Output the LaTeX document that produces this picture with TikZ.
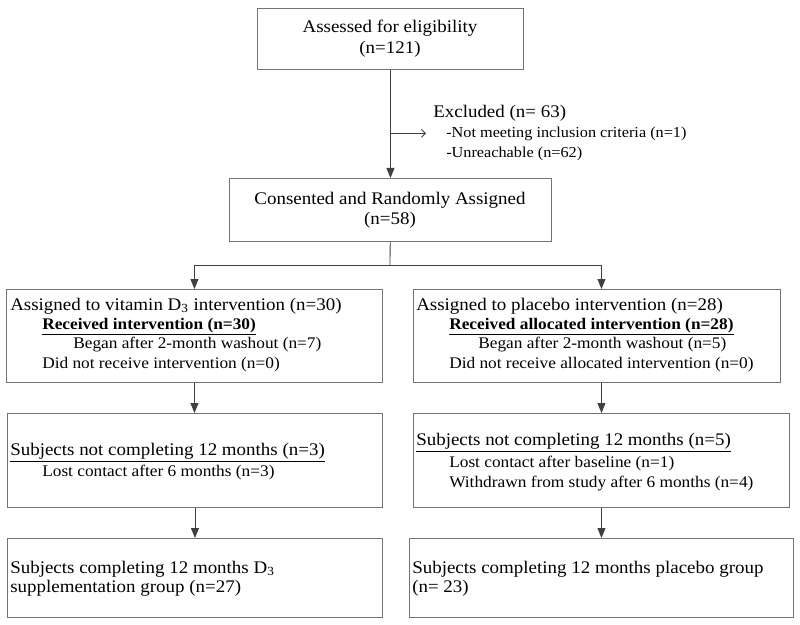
\documentclass[tikz,border=0pt]{standalone}
\usepackage{fontspec}
\setmainfont{Liberation Serif}[FakeStretch=1.07]
\usetikzlibrary{arrows.meta, positioning}

\begin{document}
\begin{tikzpicture}[x=0.025cm, y=-0.025cm,
        box/.style={rectangle, draw=black!55, line width=0.6pt, anchor=north west, inner sep=0pt},
        txt/.style={anchor=base west, inner sep=0pt, font=\fontsize{12.6}{15}\selectfont},
        sub/.style={txt, font=\fontsize{11.5}{14}\selectfont},
        ctxt/.style={txt, anchor=base},
        link/.style={draw=black!75, line width=0.6pt},
        flow/.style={link, -{Triangle[length=0.25cm, width=0.2cm]}}]
        \useasboundingbox (0,0) rectangle (800,624);

        % boxes
        \node[box, minimum width=6.65cm, minimum height=1.525cm] (assess) at (257,8) {};
        \node[box, minimum width=8.05cm, minimum height=1.575cm] (consent) at (229,178) {};
        \node[box, minimum width=9.4cm, minimum height=2.325cm] (vitAssign) at (6,289) {};
        \node[box, minimum width=9.175cm, minimum height=2.325cm] (plcAssign) at (413,289) {};
        \node[box, minimum width=9.375cm, minimum height=2.35cm] (vitLoss) at (7,413) {};
        \node[box, minimum width=9.4cm, minimum height=2.35cm] (plcLoss) at (413,413) {};
        \node[box, minimum width=9.375cm, minimum height=1.975cm] (vitDone) at (7,538) {};
        \node[box, minimum width=9.6cm, minimum height=1.975cm] (plcDone) at (409,538) {};

        % texts
        \node[ctxt] (assessA) at (390,33) {Assessed for eligibility};
        \node[ctxt] (assessB) at (390,54) {(n=121)};
        \node[txt] (exclA) at (433,117) {Excluded (n= 63)};
        \node[sub, font=\fontsize{10.8}{13}\selectfont] (exclB) at (446,137) {-Not meeting inclusion criteria (n=1)};
        \node[sub, font=\fontsize{10.8}{13}\selectfont] (exclC) at (446,157) {-Unreachable (n=62)};
        \node[ctxt] (consentA) at (390,204) {Consented and Randomly Assigned};
        \node[ctxt] (consentB) at (390,224) {(n=58)};

        \node[txt] (vitA1) at (10,310) {Assigned to vitamin D\textsubscript{3} intervention (n=30)};
        \node[sub] (vitA2) at (42,329) {\underline{\textbf{Received intervention (n=30)}}};
        \node[sub] (vitA3) at (73,348) {Began after 2-month washout (n=7)};
        \node[sub] (vitA4) at (42,368) {Did not receive intervention (n=0)};
        \node[txt] (plcA1) at (416,310) {Assigned to placebo intervention (n=28)};
        \node[sub] (plcA2) at (449,329) {\underline{\textbf{Received allocated intervention (n=28)}}};
        \node[sub] (plcA3) at (478,348) {Began after 2-month washout (n=5)};
        \node[sub] (plcA4) at (449,368) {Did not receive allocated intervention (n=0)};

        \node[txt] (vitL1) at (10,455) {\underline{Subjects not completing 12 months (n=3)}};
        \node[sub] (vitL2) at (42,476) {Lost contact after 6 months (n=3)};
        \node[txt] (plcL1) at (416,445) {\underline{Subjects not completing 12 months (n=5)}};
        \node[sub] (plcL2) at (449,467) {Lost contact after baseline (n=1)};
        \node[sub] (plcL3) at (449,487) {Withdrawn from study after 6 months (n=4)};

        \node[txt] (vitD1) at (10,573) {Subjects completing 12 months D\textsubscript{3}};
        \node[txt] (vitD2) at (10,592) {supplementation group (n=27)};
        \node[txt] (plcD1) at (412,573) {Subjects completing 12 months placebo group};
        \node[txt] (plcD2) at (412,592) {(n= 23)};

        % connectors
        \coordinate (split) at (390,265);
        \draw[flow] (assess) to (consent);
        \draw[link, -{Straight Barb[length=0.1cm, width=0.2cm]}, shorten >=0.5cm]
            (exclB.west -| assess.south) to (exclB.west);
        \draw[link] (consent) to (split);
        \draw[flow] (split) -| (vitAssign.north);
        \draw[flow] (split) -| (plcLoss.north |- plcAssign.north);
        \draw[flow] (vitAssign.south) to (vitAssign.south |- vitLoss.north);
        \draw[flow] (plcLoss.north |- plcAssign.south) to (plcLoss.north);
        \draw[flow] (vitLoss) to (vitDone);
        \draw[flow] (plcLoss) to (plcDone);
    \end{tikzpicture}
\end{document}
